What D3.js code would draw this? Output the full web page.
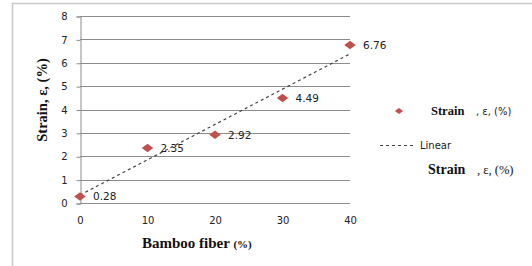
<!DOCTYPE html>
<html>
<head>
<meta charset="utf-8">
<script src="https://cdn.jsdelivr.net/npm/d3@7"></script>
<style>
  body { margin: 0; background: #fff; }
  .grid line { stroke: #8c8c8c; stroke-width: 1; }
  .tick text { font-family: "DejaVu Sans", Verdana, sans-serif; font-size: 10px; fill: #222; }
  .lbl { font-family: "DejaVu Sans", Verdana, sans-serif; font-size: 10.5px; fill: #222; }
  text.serif { font-family: "Liberation Serif", "DejaVu Serif", serif; font-weight: bold; fill: #111; }
</style>
</head>
<body>
<div id="chart"></div>
<script>
const fiber = [0, 10, 20, 30, 40];
const strain = [0.28, 2.35, 2.92, 4.49, 6.76];
const xTicks = [0, 10, 20, 30, 40];
const yTicks = [0, 1, 2, 3, 4, 5, 6, 7, 8];

const width = 532, height = 266;
const margin = { top: 16, right: 182, bottom: 63, left: 80 };

const svg = d3.select("#chart").append("svg")
    .attr("width", width)
    .attr("height", height);

// outer frame
svg.append("path")
    .attr("d", `M12.5,${height} V3.5 H${width}`)
    .attr("fill", "none")
    .attr("stroke", "#c8c8c8")
    .attr("stroke-width", 1.5);

const x = d3.scaleLinear().domain([0, 40]).range([margin.left, width - margin.right]);
const y = d3.scaleLinear().domain([0, 8]).range([height - margin.bottom, margin.top]);

// gridlines
svg.append("g").attr("class", "grid")
    .selectAll("line")
    .data(yTicks)
    .enter()
    .append("line")
    .attr("x1", x(0))
    .attr("x2", x(40))
    .attr("y1", d => Math.round(y(d)) + 0.5)
    .attr("y2", d => Math.round(y(d)) + 0.5);

// y axis
const yAxis = svg.append("g")
    .attr("transform", `translate(${x(0) + 0.5},0.5)`)
    .call(d3.axisLeft(y).tickValues(yTicks).tickSize(4).tickPadding(9));
yAxis.select(".domain").attr("stroke", "#8c8c8c");
yAxis.selectAll(".tick line").attr("stroke", "#8c8c8c");

// x axis (labels only)
const xAxis = svg.append("g")
    .attr("transform", `translate(0,${y(0)})`)
    .call(d3.axisBottom(x).tickValues(xTicks).tickSize(0).tickPadding(14));
xAxis.select(".domain").remove();

// linear trend (least squares fit of the points)
const mx = d3.mean(fiber), my = d3.mean(strain);
const slope = d3.sum(fiber, (v, i) => (v - mx) * (strain[i] - my)) / d3.sum(fiber, v => (v - mx) ** 2);
const icept = my - slope * mx;
svg.append("line")
    .attr("x1", x(0)).attr("y1", y(icept))
    .attr("x2", x(40)).attr("y2", y(icept + slope * 40))
    .attr("stroke", "#444")
    .attr("stroke-width", 1.2)
    .attr("stroke-dasharray", "3,3");

// points: Excel-style wide diamond
const diamond = d3.symbol().type(d3.symbolSquare).size(50);
svg.append("g")
    .selectAll("path")
    .data(fiber)
    .enter()
    .append("path")
    .attr("d", diamond)
    .attr("transform", (d, i) => `translate(${x(d)},${y(strain[i])}) scale(1.15,0.85) rotate(45)`)
    .attr("fill", "#c0504d");

svg.append("g")
    .selectAll("text")
    .data(fiber)
    .enter()
    .append("text")
    .attr("class", "lbl")
    .attr("x", d => x(d) + 13)
    .attr("y", (d, i) => y(strain[i]) + 4)
    .text((d, i) => strain[i].toFixed(2));

// axis titles
svg.append("text")
    .attr("class", "serif")
    .attr("x", 142).attr("y", 248)
    .style("font-size", "15px")
    .html('Bamboo fiber <tspan style="font-size:11px">(%)</tspan>');

svg.append("text")
    .attr("class", "serif")
    .attr("transform", "translate(47,100) rotate(-90)")
    .attr("text-anchor", "middle")
    .style("font-size", "14.5px")
    .text("Strain, ε, (%)");

// legend
svg.append("path")
    .attr("d", d3.symbol().type(d3.symbolSquare).size(26))
    .attr("transform", "translate(399,111) scale(1.15,0.85) rotate(45)")
    .attr("fill", "#c0504d");
svg.append("text")
    .attr("class", "serif")
    .attr("x", 431).attr("y", 115)
    .style("font-size", "12.5px")
    .text("Strain");
svg.append("text")
    .attr("class", "lbl")
    .attr("x", 476).attr("y", 115)
    .style("font-size", "10px")
    .text(", ε, (%)");

svg.append("line")
    .attr("x1", 380).attr("x2", 414)
    .attr("y1", 145.5).attr("y2", 145.5)
    .attr("stroke", "#444")
    .attr("stroke-dasharray", "3,3");
svg.append("text")
    .attr("class", "lbl")
    .attr("x", 420).attr("y", 149)
    .style("font-size", "10px")
    .text("Linear");

svg.append("text")
    .attr("class", "serif")
    .attr("x", 428).attr("y", 174)
    .style("font-size", "14px")
    .text("Strain");
svg.append("text")
    .attr("class", "serif")
    .attr("x", 477).attr("y", 174)
    .style("font-size", "12.5px")
    .style("font-weight", "normal")
    .text(", ε, (%)");
</script>
</body>
</html>
